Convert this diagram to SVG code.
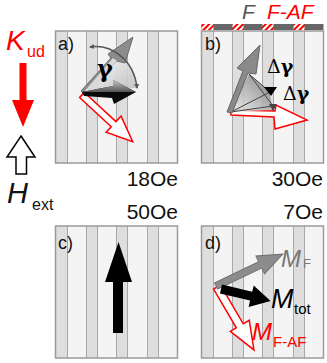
<svg xmlns="http://www.w3.org/2000/svg" width="327" height="363" viewBox="0 0 327 363">
<style>
text{font-family:"Liberation Sans",Arial,sans-serif}
.it{font-style:italic}
.lbl{font-size:18px;fill:#111}
.fld{font-size:21px;fill:#111}
.red{fill:#ff0000}
.gam{font-family:"DejaVu Serif",serif}
.rarw{fill:#fff;stroke:#ff0000;stroke-width:1.5;stroke-linejoin:miter}
.dk{fill:#dedede}
.sl{stroke:#a8a8a8;stroke-width:1}
</style>
<defs>
<pattern id="hatch" patternUnits="userSpaceOnUse" width="4" height="4" patternTransform="rotate(45)">
<rect width="4" height="4" fill="#fff"/>
<rect width="2" height="4" fill="#ff0000"/>
</pattern>
<linearGradient id="wedgeA" x1="0" y1="0" x2="1" y2="1">
<stop offset="0" stop-color="#ffffff"/>
<stop offset="1" stop-color="#bdbdbd"/>
</linearGradient>
<linearGradient id="wedgeB" x1="0" y1="1" x2="1" y2="0">
<stop offset="0" stop-color="#f0f0f0"/>
<stop offset="1" stop-color="#6e6e6e"/>
</linearGradient>
<linearGradient id="blkTop" x1="0" y1="0" x2="0" y2="1">
<stop offset="0" stop-color="#c8c8c8"/>
<stop offset="1" stop-color="#555"/>
</linearGradient>
<marker id="ah" viewBox="0 0 10 10" refX="8" refY="5" markerWidth="5" markerHeight="5" orient="auto-start-reverse" markerUnits="userSpaceOnUse">
<path d="M0,0 L10,5 L0,10 z" fill="#555"/>
</marker>
<g id="stripes">
<rect x="0" y="0" width="122" height="132" fill="#f4f4f4"/>
<rect x="0" y="0" width="12" height="132" class="dk"/>
<rect x="31" y="0" width="11" height="132" class="dk"/>
<rect x="61" y="0" width="11" height="132" class="dk"/>
<rect x="92" y="0" width="11" height="132" class="dk"/>
<path class="sl" d="M12,0V132M31,0V132M42,0V132M61,0V132M72,0V132M92,0V132M103,0V132"/>
<rect x="0" y="0" width="122" height="132" fill="none" stroke="#9a9a9a" stroke-width="1.5"/>
</g>
</defs>

<g id="legend">
<text x="6" y="50" class="it red" font-size="28">K</text>
<text x="27" y="57" class="red" font-size="16">ud</text>
<polygon points="19.5,63 26.5,63 26.5,100 34,100 23,127 12,100 19.5,100" fill="#ff0000"/>
<polygon points="21,136 35,157 26.5,157 26.5,174 16,174 16,157 7,157" fill="#fff" stroke="#000" stroke-width="1.5"/>
<text x="7" y="203" class="it" font-size="29" fill="#111">H</text>
<text x="32" y="210" font-size="16" fill="#111">ext</text>
</g>

<g id="panel-a">
<use href="#stripes" x="55.5" y="31"/>
<text x="58" y="50" class="lbl">a)</text>
<polygon class="rarw" transform="translate(82,95) rotate(42.7)" points="0,-3.5 43,-3.5 43,-11 69,0 43,11 43,3.5 0,3.5"/>
<path d="M82,92 L110,57 C120,55 134,62 136,88 Z" fill="url(#wedgeA)" opacity="0.9"/>
<polygon points="81,91 111,58 108,54 133,37 125,63 117,61 84,94" fill="#8c8c8c" stroke="#6a6a6a" stroke-width="1"/>
<polygon points="83,93 113,58 117,61 86,96" fill="#d9d9d9"/>
<polygon points="82,92 113,86 113,80 136,92 114,104 112,98 84,96" fill="#0a0a0a"/>
<polygon points="82,92 113,86 113,80 136,92 113,92" fill="url(#blkTop)"/>
<path d="M90,47 C112,44 134,60 137,88" fill="none" stroke="#555" stroke-width="1.5" marker-start="url(#ah)" marker-end="url(#ah)"/>
<text x="97" y="77" class="gam" font-weight="bold" font-size="24" fill="#000">γ</text>
<text x="178" y="186" class="fld" text-anchor="end">18Oe</text>
</g>

<g id="panel-b">
<use href="#stripes" x="201.5" y="31"/>
<rect x="201.5" y="24" width="122" height="6" fill="#666"/>
<rect x="201.5" y="24" width="12" height="6" fill="url(#hatch)"/>
<rect x="232.5" y="24" width="11" height="6" fill="url(#hatch)"/>
<rect x="262.5" y="24" width="11" height="6" fill="url(#hatch)"/>
<rect x="293.5" y="24" width="11" height="6" fill="url(#hatch)"/>
<text x="242" y="19" class="it" font-size="21" fill="#555">F</text>
<text x="267" y="19" class="it red" font-size="21">F-AF</text>
<text x="205" y="50" class="lbl">b)</text>
<polygon class="rarw" points="230,110 275,111 276,105 307,120 275,129 274,117 231,115"/>
<polygon points="230,112 249,74 269,91 273,110" fill="url(#wedgeB)" opacity="0.85"/>
<path d="M231,112 L270,92 M249,74 L270,92 M249,74 L273,106 M231,112 L273,106" stroke="#444" stroke-width="1" fill="none"/>
<polygon points="227,112 243,71 237,68 260,45 256,74 248,73 232,113" fill="#8a8a8a" stroke="#666" stroke-width="1"/>
<polygon points="264,87 277,87 271,96" fill="#000"/>
<polygon points="269,104 277,104 273,111" fill="#444"/>
<text x="267" y="73" class="gam" font-size="19" fill="#000">Δ<tspan font-weight="bold">γ</tspan></text>
<text x="283" y="100" class="gam" font-size="19" fill="#000">Δ<tspan font-weight="bold">γ</tspan></text>
<text x="323" y="186" class="fld" text-anchor="end">30Oe</text>
</g>

<g id="panel-c">
<use href="#stripes" x="55.5" y="226"/>
<text x="58" y="249" class="lbl">c)</text>
<polygon points="113,333 113,282 105,282 118.5,242 132,282 123,282 123,333" fill="#000"/>
<text x="178" y="219" class="fld" text-anchor="end">50Oe</text>
</g>

<g id="panel-d">
<use href="#stripes" x="201.5" y="226"/>
<text x="205" y="249" class="lbl">d)</text>
<polygon class="rarw" transform="translate(217,287) rotate(59.6)" points="0,-4 45,-4 45,-11 73,0 45,11 45,4 0,4"/>
<polygon transform="translate(216,286) rotate(-25.5)" points="0,-3.5 49,-3.5 49,-10 74,0 49,10 49,3.5 0,3.5" fill="#8c8c8c" stroke="#707070" stroke-width="1"/>
<polygon transform="translate(221,289) rotate(13.5)" points="0,-4.5 31,-4.5 31,-11 51,0 31,11 31,4.5 0,4.5" fill="#000"/>
<text x="281" y="267" class="it" font-size="24" fill="#777">M</text>
<text x="303" y="268" font-size="13" fill="#777">F</text>
<text x="271" y="308" class="it" font-size="27" fill="#000">M</text>
<text x="294" y="314" font-size="15" fill="#000">tot</text>
<text x="252" y="340" class="it red" font-size="24">M</text>
<text x="273" y="347" class="red" font-size="15">F-AF</text>
<text x="323" y="219" class="fld" text-anchor="end">7Oe</text>
</g>

<g id="connectors"></g>
</svg>
